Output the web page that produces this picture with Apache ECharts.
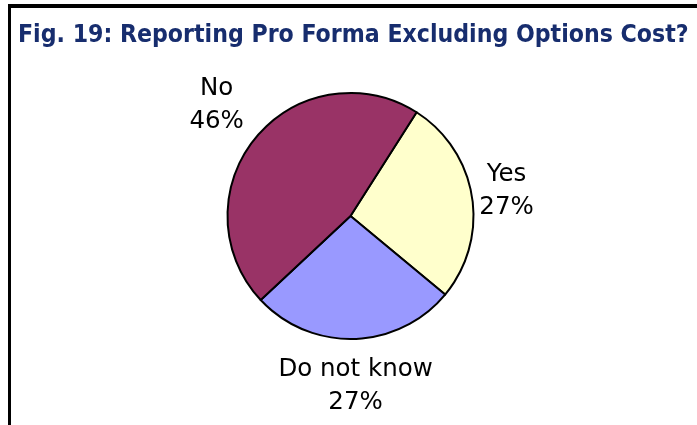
<!DOCTYPE html>
<html>
<head>
<meta charset="utf-8">
<title>Fig. 19</title>
<script src="https://cdn.jsdelivr.net/npm/echarts@6/dist/echarts.min.js"></script>
<style>
  html, body { margin: 0; padding: 0; background: #ffffff; }
  #chart { width: 697px; height: 425px; }
</style>
</head>
<body>
<div id="chart"></div>
<script>
// Survey answers, clockwise from the upper right
const categories = ['Yes', 'Do not know', 'No'];
const shares = [27, 27, 46];

// Slice fills, in category order
const sliceColors = ['#FFFFCC', '#9999FF', '#993366'];
// Distance of each label centre beyond the pie rim (px)
const labelGap = [35, 47, 51];

const chart = echarts.init(document.getElementById('chart'), null, { renderer: 'canvas' });

// Centre each two-line label on the slice bisector, a fixed gap outside the rim
function placeLabel(params) {
  const data = chart.getModel().getSeriesByIndex(0).getData();
  const lay = data.getItemLayout(params.dataIndex);
  const mid = (lay.startAngle + lay.endAngle) / 2;
  const d = lay.r + labelGap[params.dataIndex];
  return {
    x: lay.cx + d * Math.cos(mid),
    y: lay.cy + d * Math.sin(mid),
    align: 'center',
    verticalAlign: 'middle'
  };
}

chart.setOption({
  animation: false,
  backgroundColor: '#ffffff',
  title: {
    text: 'Fig. 19: Reporting Pro Forma Excluding Options Cost?',
    left: 18,
    top: 23,
    padding: 0,
    textStyle: {
      fontFamily: '"DejaVu Sans Condensed", "DejaVu Sans", sans-serif',
      fontWeight: 'bold',
      fontSize: 24.6,
      color: '#172d6e'
    }
  },
  graphic: [
    { type: 'rect', shape: { x: 8, y: 4, width: 689, height: 4 }, style: { fill: '#000000' }, silent: true },
    { type: 'rect', shape: { x: 8, y: 4, width: 3, height: 421 }, style: { fill: '#000000' }, silent: true }
  ],
  series: [{
    type: 'pie',
    center: [350.5, 216],
    radius: 123,
    startAngle: 57.5,
    clockwise: true,
    avoidLabelOverlap: false,
    emphasis: { disabled: true },
    itemStyle: { borderColor: '#000000', borderWidth: 2 },
    label: {
      show: true,
      position: 'outside',
      formatter: '{b}\n{d}%',
      fontFamily: '"DejaVu Sans", sans-serif',
      fontSize: 24.5,
      lineHeight: 33,
      color: '#000000'
    },
    labelLine: { show: false },
    labelLayout: placeLabel,
    data: categories.map((name, i) => ({
      name: name,
      value: shares[i],
      itemStyle: { color: sliceColors[i] }
    }))
  }]
});
</script>
</body>
</html>
